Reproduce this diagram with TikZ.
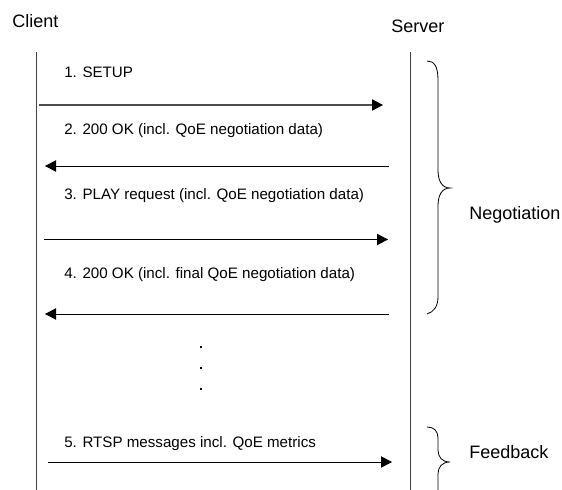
\documentclass[tikz,border=0pt]{standalone}
\usepackage{fontspec}
\setmainfont{Liberation Sans}
\usetikzlibrary{arrows.meta}
\tikzset{
  lifeline/.style={draw=black!75,line width=0.75pt},
  msg/.style={draw=black,line width=0.6pt,-{Triangle[length=8.25pt,width=8.5pt,color=black]}},
  msgtext/.style={anchor=base west,inner sep=0pt,font=\fontsize{11.36pt}{13pt}\selectfont},
  bigtext/.style={anchor=base west,inner sep=0pt,font=\fontsize{13.5pt}{16pt}\selectfont},
  brace/.style={draw=black,line width=0.6pt},
  dotmark/.style={fill=black,inner sep=0pt,minimum size=1.5pt,rectangle}
}
\begin{document}
\begin{tikzpicture}[x=0.75pt,y=-0.75pt]
\useasboundingbox (0,0) rectangle (562,490);
\clip (0,0) rectangle (562,490);
\node[bigtext] (client) at (12,27.5) {Client};
\node[bigtext] (server) at (391,32) {Server};
\coordinate (ctop) at (36,52); \coordinate (cbot) at (36,490);
\coordinate (stop) at (410,52); \coordinate (sbot) at (410,490);
\draw[lifeline] (ctop) -- (cbot);
\draw[lifeline] (stop) -- (sbot);
\coordinate (a1) at (39,105); \coordinate (b1) at (383,105);
\coordinate (a2) at (388.5,166); \coordinate (b2) at (45,166);
\coordinate (a3) at (44,239.5); \coordinate (b3) at (388,239.5);
\coordinate (a4) at (388.5,314); \coordinate (b4) at (45,314);
\coordinate (a5) at (48,462); \coordinate (b5) at (392,462);
\draw[msg,draw=black!70,line width=0.9pt] (a1) -- (b1);
\draw[msg] (a2) -- (b2);
\draw[msg] (a3) -- (b3);
\draw[msg] (a4) -- (b4);
\draw[msg] (a5) -- (b5);
\node[msgtext] (t1) at (64,77) {1. SETUP};
\node[msgtext] (t2) at (64,134) {2. 200 OK (incl. QoE negotiation data)};
\node[msgtext] (t3) at (64,199) {3. PLAY request (incl. QoE negotiation data)};
\node[msgtext] (t4) at (64,278) {4. 200 OK (incl. final QoE negotiation data)};
\node[msgtext] (t5) at (64,447) {5. RTSP messages incl. QoE metrics};
\node[dotmark] (d1) at (201,347) {};
\node[dotmark] (d2) at (201,368) {};
\node[dotmark] (d3) at (201,389) {};
\draw[brace] (427,61) .. controls (434,61) and (438,66) .. (438,80)
  -- (438,170) .. controls (438,181) and (442,188) .. (450,188)
  .. controls (442,188) and (438,195) .. (438,206)
  -- (438,297) .. controls (438,306) and (434,312) .. (427,314);
\draw[brace] (427,427) .. controls (434,427) and (438,431) .. (438,438)
  -- (438,450) .. controls (438,457) and (442,462) .. (450,462)
  .. controls (442,462) and (438,467) .. (438,474) -- (438,490);
\node[bigtext] (neg) at (469,219) {Negotiation};
\node[bigtext] (fb) at (469,458) {Feedback};
\end{tikzpicture}
\end{document}
